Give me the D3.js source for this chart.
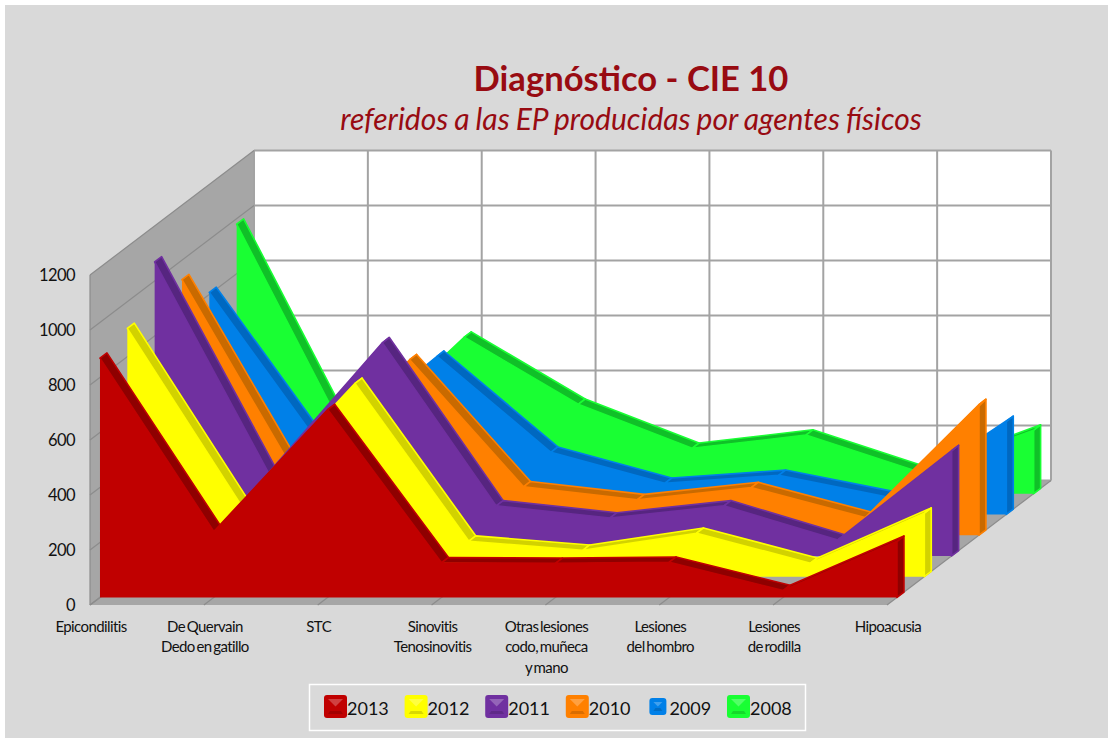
<!DOCTYPE html>
<html><head><meta charset="utf-8">
<script src="https://cdn.jsdelivr.net/npm/d3@7"></script>
<style>html,body{margin:0;padding:0;background:#fff}svg{display:block}text{font-family:Lato,"Open Sans",sans-serif}</style>
</head><body><div id="chart"></div>
<script>
const categories=[["Epicondilitis"],["De Quervain","Dedo en gatillo"],["STC"],["Sinovitis","Tenosinovitis"],["Otras lesiones","codo, muñeca","y mano"],["Lesiones","del hombro"],["Lesiones","de rodilla"],["Hipoacusia"]];
const years=["2013","2012","2011","2010","2009","2008"];
const v2013=[870,240,683,126,124,128,25,204];
const v2012=[903,260,703,129,96,158,49,231];
const v2011=[1069,302,775,182,138,182,58,383];
const v2010=[929,220,638,176,129,173,64,475];
const v2009=[807,236,575,226,113,142,60,338];
const v2008=[980,180,569,325,165,213,78,231];
const seriesValues=[v2013,v2012,v2011,v2010,v2009,v2008];
const faceColors=["#c00000","#ffff00","#7030a0","#ff8000","#0080e8","#19ff33"];
const topColors=["#8f0000","#d2d200","#562580","#c96a00","#0068c0","#10c028"];
const yTicks=[0,200,400,600,800,1000,1200];

const W=1108,H=738;
const svg=d3.select("#chart").append("svg").attr("width",W).attr("height",H);
svg.append("rect").attr("x",5).attr("y",5).attr("width",W-5).attr("height",H-5).attr("fill","#d9d9d9");

// oblique projection: category index, value, depth (0 = front of floor, 6 = back wall)
const xWall=d3.scaleLinear().domain([0,7]).range([90,887]);
const yVal=d3.scaleLinear().domain([0,1200]).range([605,275]);
const dx=d3.scaleLinear().domain([0,6]).range([0,164]);
const dy=d3.scaleLinear().domain([0,6]).range([0,-124.5]);
const P=(i,v,d)=>[xWall(i)+dx(d),yVal(v)+dy(d)];
const poly=pts=>"M"+pts.map(p=>p.join(",")).join("L")+"Z";

const gridCol="#a3a3a3";
svg.append("path").attr("d",poly([P(0,0,6),P(7,0,6),P(7,1200,6),P(0,1200,6)])).attr("fill","#fff");
svg.append("path").attr("d",poly([P(0,0,0),P(0,0,6),P(0,1200,6),P(0,1200,0)])).attr("fill","#a6a6a6");
svg.append("path").attr("d",poly([P(0,0,0),P(7,0,0),P(7,0,6),P(0,0,6)])).attr("fill","#a6a6a6");
const line=d3.line();
svg.append("g").selectAll("path").data(yTicks).join("path")
  .attr("d",t=>line([P(0,t,6),P(7,t,6)])).attr("fill","none").attr("stroke",gridCol).attr("stroke-width",2);
svg.append("g").selectAll("path").data(d3.range(8)).join("path")
  .attr("d",i=>line([P(i,0,6),P(i,1200,6)])).attr("fill","none").attr("stroke",gridCol).attr("stroke-width",2);
svg.append("g").selectAll("path").data(yTicks).join("path")
  .attr("d",t=>line([P(0,t,0),P(0,t,6)])).attr("fill","none").attr("stroke","#8c8c8c").attr("stroke-width",1.2);
svg.append("path").attr("d",line([P(0,0,0),P(0,1200,0)])).attr("fill","none").attr("stroke","#8c8c8c").attr("stroke-width",1.2);
svg.append("g").selectAll("path").data(d3.range(8)).join("path")
  .attr("d",i=>line([P(i,0,0),P(i,0,6)])).attr("fill","none").attr("stroke","#8c8c8c").attr("stroke-width",1.2);

// ribbons, back to front
const front=0.365, back=0.62;
d3.range(5,-1,-1).forEach(s=>{
  const vals=seriesValues[s], g=svg.append("g");
  const F=(i,v)=>P(i,v,s+front), B=(i,v)=>P(i,v,s+back);
  const faceCol=faceColors[s], topCol=topColors[s];
  g.append("path").attr("d",poly([F(7,vals[7]),B(7,vals[7]),B(7,0),F(7,0)]))
    .attr("fill",topCol).attr("stroke",faceCol).attr("stroke-width",1.6).attr("stroke-linejoin","round");
  g.selectAll("path.top").data(d3.pairs(d3.range(8))).join("path").attr("class","top")
    .attr("d",([a,b])=>poly([F(a,vals[a]),F(b,vals[b]),B(b,vals[b]),B(a,vals[a])]))
    .attr("fill",topCol).attr("stroke",faceCol).attr("stroke-width",1.6).attr("stroke-linejoin","round");
  const area=d3.area().x((d,i)=>F(i,d)[0]).y0(F(0,0)[1]).y1((d,i)=>F(i,d)[1]);
  g.append("path").attr("d",area(vals)).attr("fill",faceCol);
});

// value labels
svg.append("g").selectAll("text").data(yTicks).join("text")
  .attr("x",75).attr("y",t=>yVal(t)+6).attr("text-anchor","end").attr("font-size",16.5).attr("fill","#111")
  .attr("letter-spacing",-0.6).text(t=>t);
// category labels
const catG=svg.append("g").selectAll("text").data(categories).join("text")
  .attr("text-anchor","middle").attr("font-size",15).attr("fill","#111")
  .attr("letter-spacing",-0.6).attr("word-spacing",-1.5);
catG.selectAll("tspan").data((d,i)=>d.map(l=>({l,i}))).join("tspan")
  .attr("x",d=>xWall(d.i)+1).attr("y",(d,j)=>631.5+j*20.5).text(d=>d.l);

// title
svg.append("text").attr("x",631).attr("y",91).attr("text-anchor","middle").attr("font-size",34.6).attr("font-weight",700)
  .attr("fill","#980b12").text("Diagnóstico - CIE 10");
svg.append("text").attr("x",631).attr("y",130).attr("text-anchor","middle").attr("font-size",30).attr("font-style","italic")
  .attr("fill","#980b12").attr("word-spacing",-1).text("referidos a las EP producidas por agentes físicos");

// legend
svg.append("rect").attr("x",309.5).attr("y",684.5).attr("width",496).attr("height",46).attr("fill","none").attr("stroke","#fff").attr("stroke-width",1.5);
const legX=d3.scaleLinear().domain([0,5]).range([324,727]);
const leg=svg.append("g").selectAll("g").data(years).join("g").attr("transform",(d,i)=>`translate(${legX(i)},695)`);
const sw=i=>i===4?[3,3,17]:[0,0,23];
leg.append("rect").attr("x",(d,i)=>sw(i)[0]).attr("y",(d,i)=>sw(i)[1]).attr("width",(d,i)=>sw(i)[2]).attr("height",(d,i)=>sw(i)[2]).attr("rx",3)
  .attr("fill",(d,i)=>faceColors[i]);
leg.append("path").attr("d",(d,i)=>{const [a,b,c]=sw(i);return poly([[a+4,b+4],[a+c-4,b+4],[a+c/2,b+c/2]]);})
  .attr("fill","#fff").attr("opacity",.25);
leg.append("path").attr("d",(d,i)=>{const [a,b,c]=sw(i);return poly([[a+4,b+c-4],[a+c-4,b+c-4],[a+c-6,b+c-7],[a+6,b+c-7]]);})
  .attr("fill","#000").attr("opacity",.15);
leg.append("text").attr("x",23).attr("y",19.5).attr("font-size",18).attr("fill","#111").text(d=>d);
</script></body></html>
